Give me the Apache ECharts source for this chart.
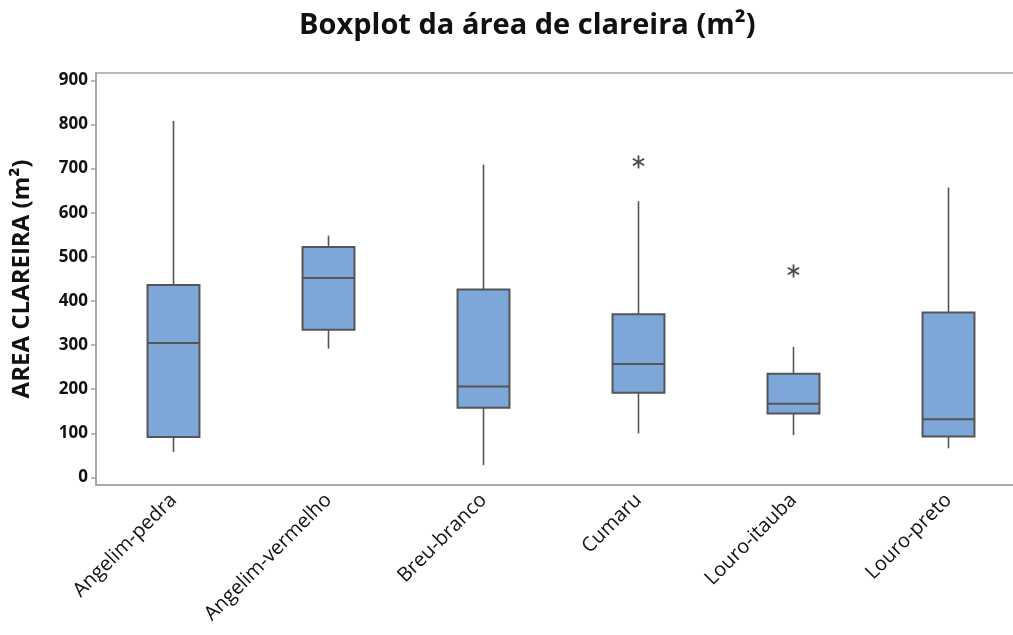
<!DOCTYPE html>
<html>
<head>
<meta charset="utf-8">
<title>Boxplot da área de clareira</title>
<script src="https://cdn.jsdelivr.net/npm/echarts@6/dist/echarts.min.js"></script>
<style>
  html, body { margin: 0; padding: 0; background: #fff; }
  #chart { width: 1013px; height: 635px; }
</style>
</head>
<body>
<div id="chart"></div>
<script>
// Species (x categories)
const categories = ['Angelim-pedra', 'Angelim-vermelho', 'Breu-branco', 'Cumaru', 'Louro-itauba', 'Louro-preto'];
// Five-number summaries per species (m²)
const whiskerLow  = [58, 292, 28, 100, 96, 66];
const quartile1   = [92, 335, 158, 192, 145, 93];
const medians     = [305, 452, 206, 257, 167, 132];
const quartile3   = [436, 522, 426, 370, 235, 374];
const whiskerHigh = [808, 548, 709, 626, 296, 657];
// Outliers: [category index, value]
const outliers = [[3, 715], [4, 468]];
// Y tick labels
const yTicks = [0, 100, 200, 300, 400, 500, 600, 700, 800, 900];

const boxData = categories.map((c, i) => [i, whiskerLow[i], quartile1[i], medians[i], quartile3[i], whiskerHigh[i]]);

const FONT = '"Open Sans", "Noto Sans", sans-serif';
const AXIS_GREY = '#a3a3a3';
const EDGE = '#555555';
const FILL = '#7ca7d8';

function renderBox(params, api) {
  const idx = api.value(0);
  const pMin = api.coord([idx, api.value(1)]);
  const pQ1 = api.coord([idx, api.value(2)]);
  const pMed = api.coord([idx, api.value(3)]);
  const pQ3 = api.coord([idx, api.value(4)]);
  const pMax = api.coord([idx, api.value(5)]);
  const half = api.size([1, 0])[0] * 0.335 / 2;
  const cx = pMed[0];
  const lineStyle = { stroke: EDGE, lineWidth: 1.6 };
  return {
    type: 'group',
    children: [
      { type: 'line', shape: { x1: cx, y1: pMax[1], x2: cx, y2: pQ3[1] }, style: lineStyle },
      { type: 'line', shape: { x1: cx, y1: pQ1[1], x2: cx, y2: pMin[1] }, style: lineStyle },
      { type: 'rect', shape: { x: cx - half, y: pQ3[1], width: half * 2, height: pQ1[1] - pQ3[1] },
        style: { fill: FILL, stroke: EDGE, lineWidth: 2 } },
      { type: 'line', shape: { x1: cx - half, y1: pMed[1], x2: cx + half, y2: pMed[1] },
        style: { stroke: EDGE, lineWidth: 2 } }
    ]
  };
}

// Outlier marker: six-spoke asterisk centred on the data point
function renderStar(params, api) {
  const p = api.coord([api.value(0), api.value(1)]);
  const r = 6.5;
  const dx = r * 0.866, dy = r * 0.5;
  const st = { stroke: '#4a4a4a', lineWidth: 1.8 };
  return {
    type: 'group',
    children: [
      { type: 'line', shape: { x1: p[0], y1: p[1] - r, x2: p[0], y2: p[1] + r }, style: st },
      { type: 'line', shape: { x1: p[0] - dx, y1: p[1] - dy, x2: p[0] + dx, y2: p[1] + dy }, style: st },
      { type: 'line', shape: { x1: p[0] - dx, y1: p[1] + dy, x2: p[0] + dx, y2: p[1] - dy }, style: st }
    ]
  };
}

const chart = echarts.init(document.getElementById('chart'), null, { renderer: 'canvas' });
chart.setOption({
  animation: false,
  backgroundColor: '#ffffff',
  title: {
    text: 'Boxplot da área de clareira (m²)',
    left: 294,
    top: 6,
    textStyle: { fontFamily: FONT, fontWeight: 'bold', fontSize: 29, color: '#111' }
  },
  grid: {
    left: 96, top: 73, width: 930, height: 412,
    outerBoundsMode: 'none',
    containLabel: false,
    show: true, borderColor: AXIS_GREY, borderWidth: 1.5, backgroundColor: 'transparent'
  },
  xAxis: {
    type: 'category',
    data: categories,
    boundaryGap: true,
    axisLine: { onZero: false, lineStyle: { color: AXIS_GREY, width: 1.5 } },
    axisTick: { alignWithLabel: true, length: 7, lineStyle: { color: AXIS_GREY, width: 1.5 } },
    axisLabel: {
      rotate: 45, margin: 12, interval: 0,
      fontFamily: FONT, fontWeight: 500, fontSize: 20, color: '#111'
    }
  },
  yAxis: {
    type: 'value',
    min: -17, max: 916.5,
    name: 'AREA CLAREIRA (m²)',
    nameLocation: 'middle',
    nameGap: 62,
    nameTextStyle: { fontFamily: FONT, fontWeight: 'bold', fontSize: 24, color: '#111' },
    splitLine: { show: false },
    axisLine: { show: true, lineStyle: { color: AXIS_GREY, width: 1.5 } },
    axisTick: { show: true, length: 5, customValues: yTicks, lineStyle: { color: AXIS_GREY, width: 1.5 } },
    axisLabel: {
      customValues: yTicks, margin: 8,
      fontFamily: FONT, fontWeight: 'bold', fontSize: 17, color: '#111'
    }
  },
  series: [
    {
      type: 'custom',
      renderItem: renderBox,
      encode: { x: 0, y: [1, 2, 3, 4, 5] },
      data: boxData
    },
    {
      type: 'custom',
      renderItem: renderStar,
      encode: { x: 0, y: 1 },
      data: outliers
    }
  ]
});
</script>
</body>
</html>
